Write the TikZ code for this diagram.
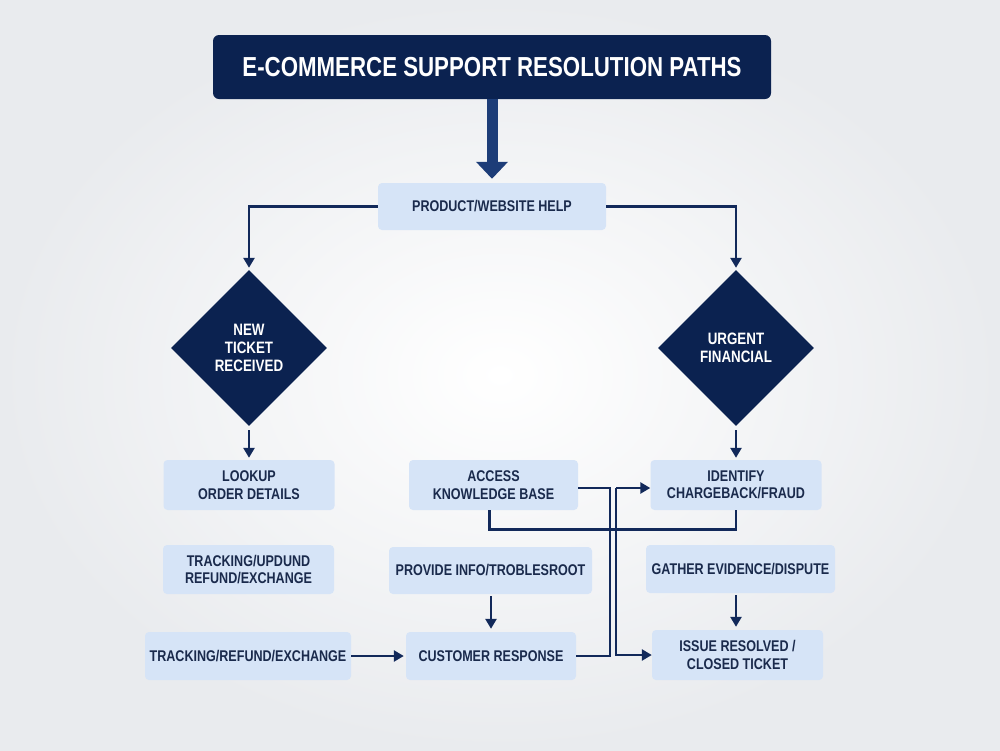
\documentclass[tikz,border=0pt]{standalone}
\usepackage{fontspec}
\setmainfont{Liberation Sans}
\newfontfamily\condfont[FakeStretch=0.81]{Liberation Sans}
\usetikzlibrary{arrows.meta,shapes.geometric,calc}
\definecolor{navy}{HTML}{0B2250}
\definecolor{navyline}{HTML}{12295A}
\definecolor{shaft}{HTML}{1D3D78}
\definecolor{lightbox}{HTML}{D6E4F7}
\definecolor{boxtext}{HTML}{1A2A4C}
\definecolor{bgedge}{HTML}{E9EBEE}
\tikzset{
  lbox/.style={rectangle, rounded corners=4pt, fill=lightbox, text=boxtext,
    font=\condfont\bfseries\fontsize{15.5}{17.5}\selectfont, align=center, inner sep=0pt},
  dbox/.style={diamond, fill=navy, text=white, minimum width=156pt, minimum height=156pt,
    inner sep=0pt, font=\condfont\bfseries\fontsize{16.5}{18}\selectfont, align=center},
  conn/.style={draw=navyline, line width=2.6pt},
  arr/.style={conn, -{Triangle[width=11pt,length=10pt]}},
}
\begin{document}
\begin{tikzpicture}[x=1pt,y=-1pt]
\useasboundingbox (0,0) rectangle (1000,750);
\shade[inner color=white, outer color=bgedge] (0,0) rectangle (1000,750);

\node[rectangle, rounded corners=6pt, fill=navy, text=white, minimum width=558pt, minimum height=64pt,
  font=\condfont\bfseries\fontsize{27.5}{30}\selectfont, inner sep=0pt] (title) at (492,67) {E-COMMERCE SUPPORT RESOLUTION PATHS};

\node[lbox, minimum width=228pt, minimum height=47pt] (help) at (492,206.5) {PRODUCT/WEBSITE HELP};

\node[dbox] (d1) at (249,348) {NEW\\TICKET\\RECEIVED};
\node[dbox] (d2) at (736,348) {URGENT\\FINANCIAL};

\node[lbox, minimum width=171pt, minimum height=50pt] (lookup) at (249,485) {LOOKUP\\ORDER DETAILS};
\node[lbox, minimum width=171pt, minimum height=49pt] (track1) at (248.5,569.5) {TRACKING/UPDUND\\REFUND/EXCHANGE};
\node[lbox, minimum width=206pt, minimum height=48pt] (track2) at (248,656) {TRACKING/REFUND/EXCHANGE};

\node[lbox, minimum width=169pt, minimum height=50pt] (access) at (493.5,485) {ACCESS\\KNOWLEDGE BASE};
\node[lbox, minimum width=203pt, minimum height=47pt] (provide) at (490.5,570.5) {PROVIDE INFO/TROBLESROOT};
\node[lbox, minimum width=170pt, minimum height=48pt] (cust) at (491,656) {CUSTOMER RESPONSE};

\node[lbox, minimum width=171pt, minimum height=50pt] (ident) at (736,485) {IDENTIFY\\CHARGEBACK/FRAUD};
\node[lbox, minimum width=189pt, minimum height=48pt] (gather) at (740.5,569) {GATHER EVIDENCE/DISPUTE};
\node[lbox, minimum width=171pt, minimum height=50pt] (issue) at (737.5,655) {ISSUE RESOLVED /\\CLOSED TICKET};

% thick arrow from title
\draw[draw=shaft, line width=11pt, -{Triangle[width=31pt,length=17pt,fill=shaft]}, shorten >=4pt] (title.south) -- (help.north);

% branches
\draw[arr, shorten >=2pt] (help.west) -| (d1.north);
\draw[arr, shorten >=2pt] (help.east) -| (d2.north);
\draw[arr, shorten <=4pt, shorten >=2pt] (d1.south) -- (lookup.north);
\draw[arr, shorten <=4pt, shorten >=2pt] (d2.south) -- (ident.north);

\draw[arr, shorten >=2pt] (track2.east) -- (cust.west);
\draw[arr, shorten <=2pt, shorten >=3pt] (cust.north |- provide.south) -- (cust.north);
\draw[arr, shorten <=2pt, shorten >=3pt] (d2.south |- gather.south) -- (d2.south |- issue.north);

% crossing connectors
\coordinate (k1) at (610,488);
\coordinate (k2) at (610,656);
\draw[conn] (access.east |- k1) -- (k1) -- (k2) -- (cust.east);
\coordinate (j) at (616,488);
\draw[arr] (j) -- (ident.west |- j);
\draw[arr] (j) |- (issue.west);
\draw[conn] ($(access.south)+(-4,0)$) -- ++(0,19) -| (ident.south);
\end{tikzpicture}
\end{document}
